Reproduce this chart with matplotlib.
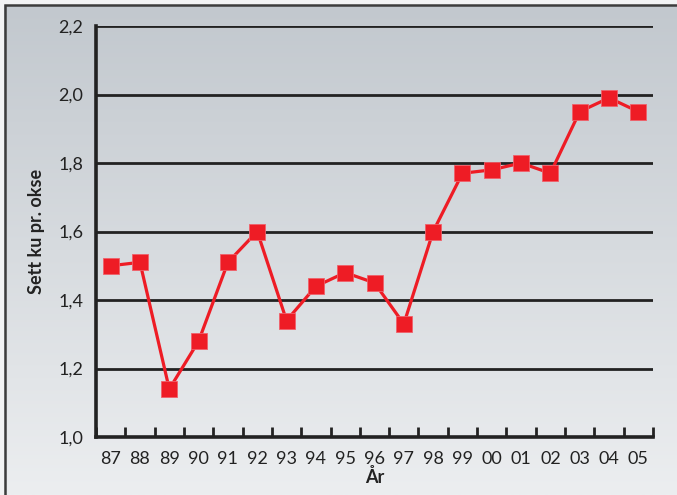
import numpy as np
import matplotlib.pyplot as plt
from matplotlib.patches import Rectangle
from matplotlib.colors import LinearSegmentedColormap

# Data
aar = ['87', '88', '89', '90', '91', '92', '93', '94', '95', '96',
       '97', '98', '99', '00', '01', '02', '03', '04', '05']
ku_per_okse = [1.50, 1.51, 1.14, 1.28, 1.51, 1.60, 1.34, 1.44, 1.48, 1.45,
               1.33, 1.60, 1.77, 1.78, 1.80, 1.77, 1.95, 1.99, 1.95]
y_ticks = [1.0, 1.2, 1.4, 1.6, 1.8, 2.0, 2.2]

plt.rcParams['font.family'] = ['Lato', 'DejaVu Sans']

fig = plt.figure(figsize=(6.77, 4.95), dpi=100)
fig.patch.set_facecolor('#f2f3f4')

# bakgrunn med gradient
bg = fig.add_axes([0, 0, 1, 1], zorder=0)
grad = np.linspace(0, 1, 256).reshape(-1, 1)
cmap = LinearSegmentedColormap.from_list('bg', ['#c2c8ce', '#eceef0'])
bg.imshow(grad, aspect='auto', cmap=cmap, extent=[4 / 677, 1, 0, 1 - 5 / 495])
bg.set_xlim(0, 1)
bg.set_ylim(0, 1)
bg.add_patch(Rectangle((4.5 / 677, -0.1), 1.2, 1.1 - 5.5 / 495, fill=False,
                       edgecolor='#3c3c3c', linewidth=1.8))
bg.axis('off')

ax = fig.add_axes([96 / 677, 1 - 437 / 495, 557 / 677, 411 / 495], zorder=1)
ax.patch.set_alpha(0)

x = np.arange(len(aar))
ax.plot(x, ku_per_okse, color='#ee1c25', linewidth=2.3, marker='s',
        markersize=11.5, markerfacecolor='#ee1c25', markeredgecolor='#f0606a',
        markeredgewidth=0.6, zorder=3, clip_on=False)

ax.set_xlim(-0.5, len(aar) - 0.5)
ax.set_ylim(1.0, 2.2)

for yv in y_ticks[1:]:
    ax.axhline(yv, color='#222222', linewidth=2, zorder=1)

ax.set_yticks(y_ticks)
ax.set_yticklabels([f'{v:.1f}'.replace('.', ',') for v in y_ticks])
ax.set_xticks(x)
ax.set_xticklabels(aar)
ax.set_xticks(np.arange(-0.5, len(aar)), minor=True)
ax.tick_params(axis='x', which='major', length=0, labelsize=13, pad=10,
               colors='#222222')
ax.tick_params(axis='x', which='minor', direction='in', length=7, width=2,
               color='#222222')
ax.tick_params(axis='y', length=0, labelsize=13, pad=9, colors='#222222')

for s in ['top', 'right']:
    ax.spines[s].set_visible(False)
for s in ['left', 'bottom']:
    ax.spines[s].set_linewidth(2.6)
    ax.spines[s].set_color('#222222')
    ax.spines[s].set_zorder(2)

ax.set_xlabel('År', fontsize=13, fontweight='bold', labelpad=1,
              color='#222222')
ax.set_ylabel('Sett ku pr. okse', fontsize=13, fontweight='bold',
              labelpad=10, color='#222222')

fig.savefig('out.png', dpi=100)
